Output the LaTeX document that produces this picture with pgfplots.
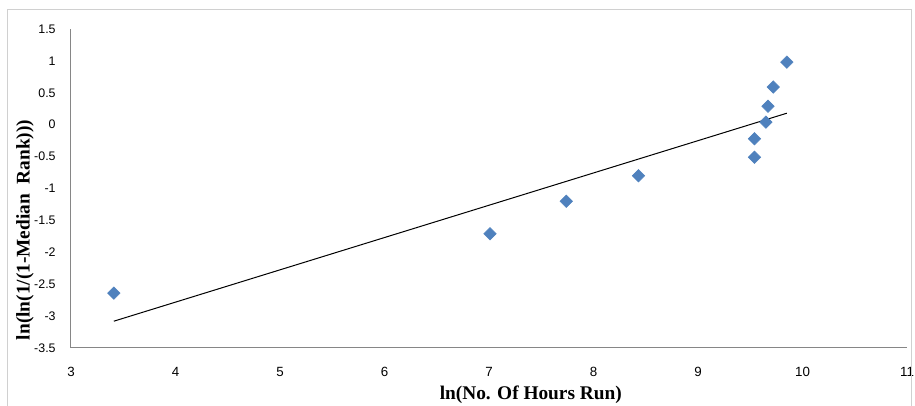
\documentclass[border=0pt]{standalone}
\usepackage{fontspec}
\setmainfont{Liberation Serif}
\newfontfamily\arial{Liberation Sans}
\usepackage{pgfplots}
\pgfplotsset{compat=1.18}
\definecolor{mkblue}{HTML}{4F81BD}
\definecolor{axgray}{HTML}{868686}
\definecolor{framegray}{HTML}{D0D0D0}

\begin{document}
\begin{tikzpicture}
\begin{axis}[
  scale only axis,
  width=627pt, height=239.25pt,
  xmin=3, xmax=11, ymin=-3.5, ymax=1.5,
  xtick={3,4,...,11},
  xticklabels={3,4,5,6,7,8,9,10,11},
  ytick={-3.5,-3,-2.5,-2,-1.5,-1,-0.5,0,0.5,1,1.5},
  yticklabels={-3.5,-3,-2.5,-2,-1.5,-1,-0.5,0,0.5,1,1.5},
  axis x line*=bottom, axis y line*=left,
  axis line style={axgray, line width=0.75pt},
  major tick length=0pt,
  xticklabel style={font=\arial\fontsize{10}{12}\selectfont, yshift=-11pt},
  yticklabel style={font=\arial\fontsize{9.3}{11}\selectfont, xshift=-8pt},
  xlabel={\bfseries ln(No. Of Hours Run)},
  ylabel={\bfseries ln(ln(1/(1-Median~~Rank)))},
  xlabel style={font=\fontsize{14.5}{16}\selectfont, at={(axis description cs:0.55,-0.147)}, anchor=center},
  ylabel style={font=\fontsize{14.5}{16}\selectfont, at={(axis description cs:-0.055,0.37)}, anchor=center},
  clip=false,
]
\addplot[black, line width=0.75pt] coordinates {(3.41,-3.08) (9.85,0.18)};
\addplot[only marks, mark=square*, mark size=3.3pt, mkblue, mark options={fill=mkblue, draw=mkblue, rotate=45}] coordinates {
  (3.41,-2.64) (7.01,-1.71) (7.74,-1.20) (8.43,-0.80)
  (9.54,-0.51) (9.54,-0.22) (9.65,0.04) (9.67,0.29)
  (9.72,0.59) (9.85,0.98)
};
\draw[framegray, line width=0.75pt] (rel axis cs:-0.0754,-0.19) -- (rel axis cs:-0.0754,1.0596) -- (rel axis cs:1.0048,1.0596) -- (rel axis cs:1.0048,-0.19);
\coordinate (bl) at (rel axis cs:-0.0849,-0.1818);
\coordinate (tr) at (rel axis cs:1.00957,1.0909);
\end{axis}
\pgfresetboundingbox
\path[use as bounding box] (bl) rectangle (tr);
\end{tikzpicture}
\end{document}
